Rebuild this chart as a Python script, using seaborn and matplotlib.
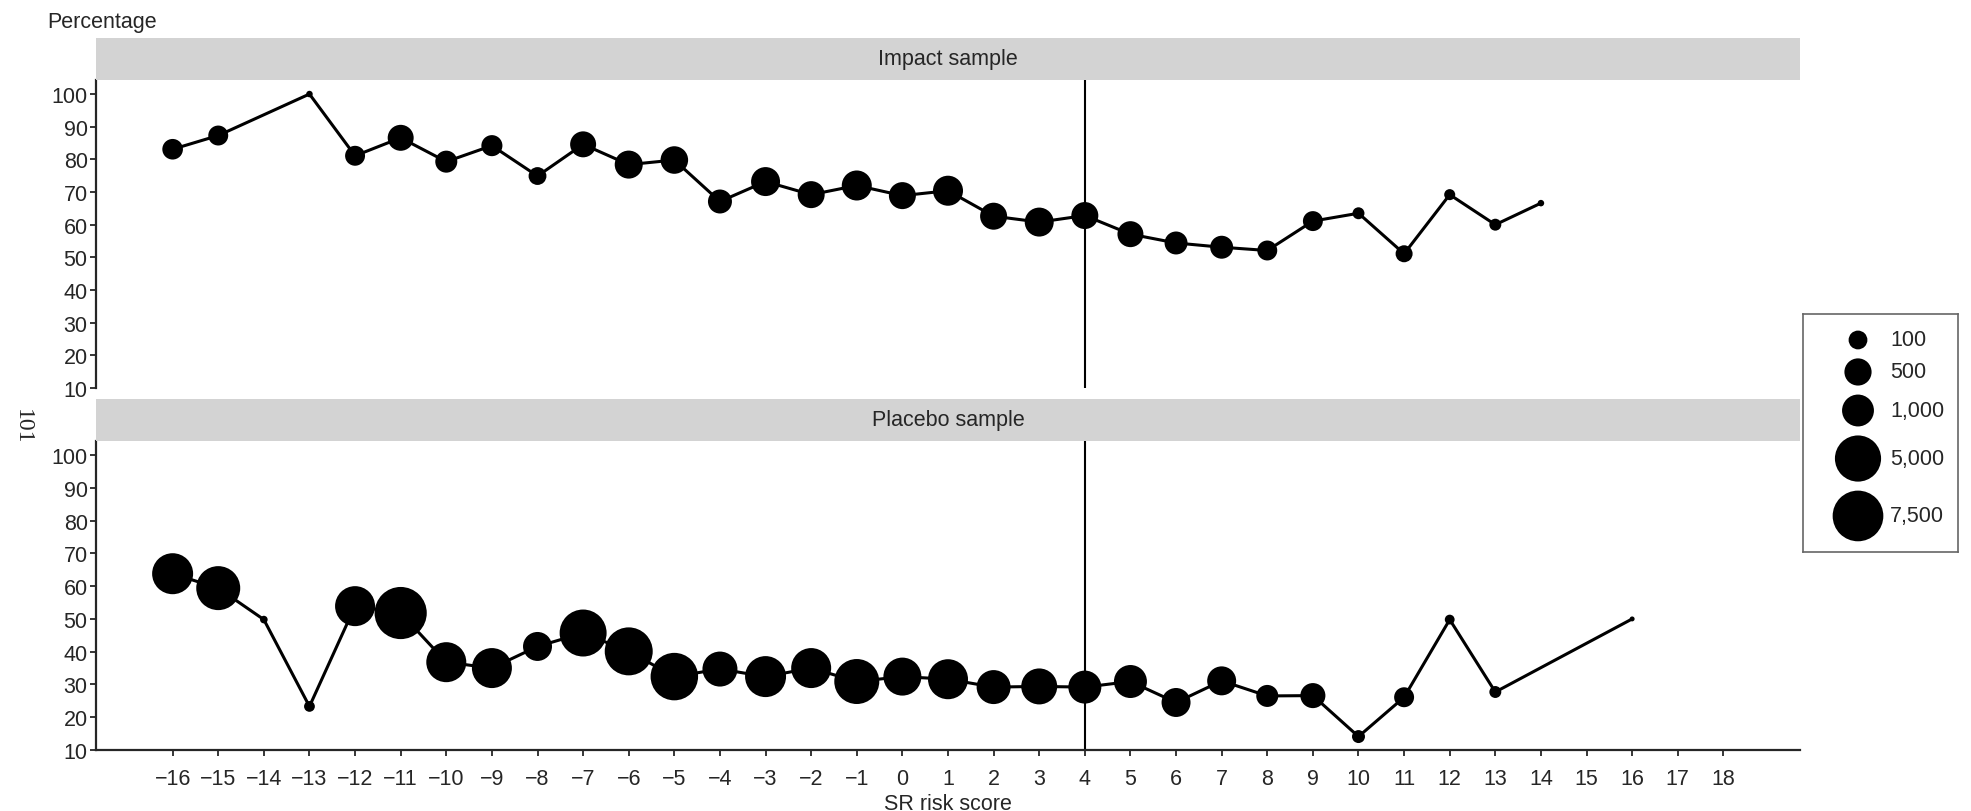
import numpy as np
import pandas as pd
import matplotlib
matplotlib.use("Agg")
import matplotlib.pyplot as plt
import matplotlib.colors as mcolors
import seaborn as sns

nan = np.nan
scores = list(range(-16, 19))

impact_pct = [83.1, 87.3, nan, 100, 81.1, 86.6, 79.3, 84.2, 74.9, 84.6, 78.4, 79.8,
              67.1, 73.2, 69.2, 72.0, 68.9, 70.4, 62.6, 60.8, 62.8, 57.1, 54.4, 53.1,
              52.1, 61.1, 63.5, 51.1, 69.2, 60.0, 66.6, nan, nan, nan, nan]
impact_n = [150, 130, nan, 1, 130, 410, 200, 165, 80, 410, 570, 530,
            290, 660, 485, 770, 485, 770, 485, 660, 485, 410, 240, 240,
            130, 130, 14, 65, 10, 14, 1, nan, nan, nan, nan]

placebo_pct = [63.8, 59.4, 49.8, 23.3, 53.9, 51.8, 36.8, 35.0, 41.6, 45.7, 40.1, 32.4,
               34.7, 32.4, 35.0, 30.9, 32.4, 31.6, 29.2, 29.4, 29.2, 30.9, 24.5, 31.1,
               26.5, 26.6, 14.1, 26.1, 49.8, 27.7, nan, nan, 50.0, nan, nan]
placebo_n = [2980, 4050, 2, 9, 2680, 8500, 2680, 2680, 660, 5390, 5910, 5650,
             1500, 2980, 2680, 4470, 2140, 2680, 1320, 1690, 1160, 1160, 660, 660,
             200, 350, 20, 130, 6, 14, nan, nan, 0.3, nan, nan]

samples = ["Impact sample", "Placebo sample"]
legend_n = [100, 500, 1000, 5000, 7500]
legend_labels = ["100", "500", "1,000", "5,000", "7,500"]

df = pd.DataFrame({
    "score": scores * 2,
    "pct": impact_pct + placebo_pct,
    "n": impact_n + placebo_n,
    "sample": [samples[0]] * len(scores) + [samples[1]] * len(scores),
}).dropna()

sns.set_style("ticks")
plt.rcParams["font.family"] = ["Liberation Sans", "DejaVu Sans"]
plt.rcParams["font.size"] = 15.5

W, H, DPI = 1971, 812, 100
fig = plt.figure(figsize=(W / DPI, H / DPI), dpi=DPI)

# marker area grows like n^0.46
S_MAX = 1520
size_norm = mcolors.PowerNorm(gamma=0.46, vmin=0, vmax=10000)

left, right = 96, 1800
panels = [(81, 389, 39), (442, 751, 400)]  # axes top, axes bottom, strip top (pixels)

axes = []
for (top, bot, stop), name in zip(panels, samples):
    ax = fig.add_axes([left / W, 1 - bot / H, (right - left) / W, (bot - top) / H])
    strip = fig.add_axes([left / W, 1 - top / H, (right - left) / W, (top - stop) / H])
    strip.set_facecolor("#d3d3d3")
    strip.set_xticks([])
    strip.set_yticks([])
    for s in strip.spines.values():
        s.set_visible(False)
    strip.text(0.5, 0.5, name, ha="center", va="center", fontsize=15.5, transform=strip.transAxes)

    d = df[df["sample"] == name]
    sns.lineplot(data=d, x="score", y="pct", color="black", lw=2.2, estimator=None,
                 ax=ax, zorder=2)
    sns.scatterplot(data=d, x="score", y="pct", size="n", sizes=(0, S_MAX),
                    size_norm=size_norm, color="black", linewidth=0, legend=False,
                    ax=ax, zorder=3)
    ax.axvline(4, color="black", lw=1.5, zorder=1)

    ax.set_xlim(-17.68, 19.68)
    ax.set_ylim(10, 104.3)
    ax.set_yticks(range(10, 101, 10))
    ax.set_xlabel("")
    ax.set_ylabel("")
    ax.tick_params(axis="y", length=4, width=1.3, pad=2, labelsize=15.5)
    for sp in ["top", "right"]:
        ax.spines[sp].set_visible(False)
    ax.spines["left"].set_linewidth(1.6)
    ax.spines["bottom"].set_linewidth(1.6)
    axes.append(ax)

ax_top, ax_bot = axes
ax_top.spines["bottom"].set_visible(False)
ax_top.set_xticks([])
ax_bot.set_xticks(scores)
ax_bot.tick_params(axis="x", length=4, width=1.3, pad=9, labelsize=15.5)
ax_bot.set_xlabel("SR risk score", fontsize=15.5, labelpad=3)

fig.text(47 / W, 1 - 28 / H, "Percentage", fontsize=15.5, va="baseline", ha="left")
fig.text(22 / W, 1 - 427 / H, "101", rotation=-90, ha="center", va="center",
         fontsize=17, family=["Liberation Serif", "DejaVu Serif"])

# size legend
lx0, lx1, ly0, ly1 = 1803, 1958, 315, 553
lax = fig.add_axes([lx0 / W, 1 - ly1 / H, (lx1 - lx0) / W, (ly1 - ly0) / H])
diam = np.sqrt(S_MAX * np.asarray(size_norm(legend_n))) * DPI / 72
ys = []
y = 16.6
for i, dd in enumerate(diam):
    if i == 0:
        y = y + dd / 2
    else:
        y = y + (diam[i - 1] + dd) / 2 + 9
    ys.append(y)
sns.scatterplot(x=[55] * len(legend_n), y=ys, size=legend_n, sizes=(0, S_MAX),
                size_norm=size_norm, color="black", linewidth=0, legend=False, ax=lax)
for yy, lab in zip(ys, legend_labels):
    lax.text(87, yy, lab, ha="left", va="center", fontsize=15.5)
lax.set_xlim(0, lx1 - lx0)
lax.set_ylim(ly1 - ly0, 0)
lax.set_xticks([])
lax.set_yticks([])
lax.set_xlabel("")
lax.set_ylabel("")
for s in lax.spines.values():
    s.set_visible(True)
    s.set_color("#666666")
    s.set_linewidth(1.2)

fig.savefig("out.png", dpi=DPI)
